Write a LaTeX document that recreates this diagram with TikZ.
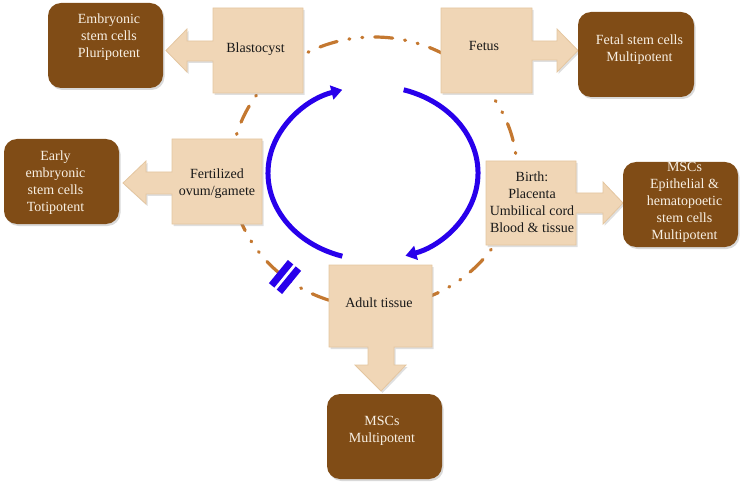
\documentclass[tikz,border=0pt]{standalone}
\usepackage{fontspec}
\setmainfont{Liberation Serif}
\usetikzlibrary{arrows.meta,shadows}
\definecolor{darkbrown}{RGB}{128,76,22}
\definecolor{lightbox}{RGB}{240,214,182}
\definecolor{lightedge}{RGB}{228,198,160}
\definecolor{orangeline}{RGB}{196,120,48}
\definecolor{cycleblue}{RGB}{40,0,235}
\definecolor{creamtext}{RGB}{248,240,228}
\begin{document}
\begin{tikzpicture}[x=1pt,y=-1pt,
  txt/.style={font=\fontsize{14}{17}\selectfont, align=center, inner sep=0pt},
  lighttext/.style={txt, text=black!90},
  darktext/.style={txt, text=creamtext},
  darkbox/.style={fill=darkbrown, rounded corners=13pt, draw=none, inner sep=0pt,
    minimum width=115pt, minimum height=85pt,
    drop shadow={shadow xshift=1.5pt,shadow yshift=-2pt,opacity=0.3}},
  callout/.style={fill=lightbox, draw=lightedge, line width=0.8pt,
    drop shadow={shadow xshift=1.5pt,shadow yshift=-2pt,opacity=0.25}},
  ring/.style={draw=orangeline, line width=3.2pt, line cap=round,
    dash pattern=on 18pt off 12pt on 1pt off 12pt on 1pt off 12pt, dash phase=16pt},
  cyc/.style={draw=cycleblue, line width=5pt, -{Triangle[length=11pt,width=14pt]}},
  blockbar/.style={draw=cycleblue, line width=7pt},
  ]
\useasboundingbox (0,0) rectangle (743,486);

% orange dash-dot ring
\coordinate (rc) at (374,172);
\draw[ring] (rc) ellipse [x radius=143, y radius=135];

% blue cycle arcs
\coordinate (bc) at (373,173);
\draw[cyc] (bc) ++(107:105 and 87) arc[start angle=107, end angle=253, x radius=105, y radius=87];
\draw[cyc] (bc) ++(-73:105 and 87) arc[start angle=-73, end angle=72, x radius=105, y radius=87];

% block symbol
\coordinate (b1a) at (290.6,262.2); \coordinate (b1b) at (271.6,285.4);
\coordinate (b2a) at (298.4,268.6); \coordinate (b2b) at (279.4,291.8);
\draw[blockbar] (b1a) -- (b1b);
\draw[blockbar] (b2a) -- (b2b);

% light callouts
\draw[callout] (303,8) -- (303,93) -- (213,93) -- (213,61) -- (187,61) -- (187,72)
  -- (166,50.5) -- (187,29) -- (187,41) -- (213,41) -- (213,8) -- cycle;
\draw[callout] (262,139) -- (262,224) -- (172,224) -- (172,194) -- (146,194) -- (146,204)
  -- (123,183) -- (146,161) -- (146,172) -- (172,172) -- (172,139) -- cycle;
\draw[callout] (441,8) -- (532,8) -- (532,41) -- (557,41) -- (557,29) -- (578,50.5)
  -- (557,72) -- (557,60) -- (532,60) -- (532,93) -- (441,93) -- cycle;
\draw[callout] (486,161) -- (576,161) -- (576,193) -- (603,193) -- (603,182) -- (623,203)
  -- (603,224) -- (603,213) -- (576,213) -- (576,245) -- (486,245) -- cycle;
\draw[callout] (329,265) -- (432,265) -- (432,347) -- (394,347) -- (394,365) -- (406,365)
  -- (381,391) -- (355,365) -- (368,365) -- (368,347) -- (329,347) -- cycle;

\node[lighttext] (blast) at (255.5,49) {Blastocyst};
\node[lighttext] (fert) at (217,184) {Fertilized\\ovum/gamete};
\node[lighttext] (fetus) at (484,46) {Fetus};
\node[lighttext] (birth) at (532,202) {Birth:\\Placenta\\Umbilical cord\\Blood \& tissue};
\node[lighttext] (adult) at (379,303) {Adult tissue};

% dark result boxes
\node[darkbox] (escbox) at (105.5,45.5) {};
\node[darkbox] (earlybox) at (61.5,181.5) {};
\node[darkbox, minimum width=116pt] (fetalbox) at (636,54.5) {};
\node[darkbox] (epibox) at (680.5,204.5) {};
\node[darkbox] (adbox) at (384.5,436.5) {};

\node[darktext] (esc) at (109,37) {Embryonic\\stem cells\\Pluripotent};
\node[darktext] (early) at (55.5,183) {Early\\embryonic\\stem cells\\Totipotent};
\node[darktext] (fetal) at (639.5,50) {Fetal stem cells\\Multipotent};
\node[darktext] (epi) at (684.5,202) {MSCs\\Epithelial \&\\hematopoetic\\stem cells\\Multipotent};
\node[darktext] (ad) at (382,430.5) {MSCs\\Multipotent};
\end{tikzpicture}
\end{document}
